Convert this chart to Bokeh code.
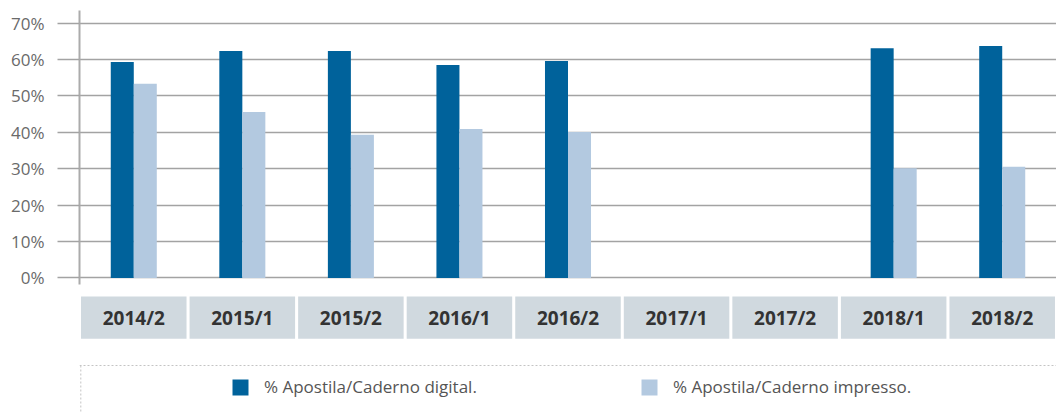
import numpy as np
from bokeh.plotting import figure
from bokeh.models import ColumnDataSource, FactorRange, Range1d, FixedTicker, Legend, LegendItem, Span
from bokeh.transform import dodge
from bokeh.core.properties import value
from bokeh.embed import file_html
from bokeh.resources import INLINE

# ---- data ----
periods = ["2014/2", "2015/1", "2015/2", "2016/1", "2016/2", "2017/1", "2017/2", "2018/1", "2018/2"]
digital = [59.3, 62.3, 62.3, 58.5, 59.6, np.nan, np.nan, 63.1, 63.7]
impresso = [53.3, 45.6, 39.3, 40.9, 40.1, np.nan, np.nan, 30.1, 30.5]
y_ticks = [0, 10, 20, 30, 40, 50, 60, 70]
y_tick_labels = ["0%", "10%", "20%", "30%", "40%", "50%", "60%", "70%"]
series_names = ["% Apostila/Caderno digital.", "% Apostila/Caderno impresso."]

DARK = "#00629b"
LIGHT = "#b3c9e0"
BOX = "#d0d9df"
GRID = "#a3a3a3"
FONT = "Open Sans"

src = ColumnDataSource(data=dict(period=periods, digital=np.array(digital, dtype=float),
                                 impresso=np.array(impresso, dtype=float)))

p = figure(width=1056, height=412, output_backend="svg", toolbar_location=None,
           x_range=FactorRange(*periods, range_padding=0),
           y_range=Range1d(-36.98, 76.2),
           x_axis_location=None,
           min_border_left=79, min_border_right=0, min_border_top=0, min_border_bottom=0)
p.outline_line_color = None
p.background_fill_color = "white"
p.border_fill_color = "white"

# y axis
ax = p.yaxis[0]
ax.ticker = FixedTicker(ticks=y_ticks)
ax.major_label_overrides = {t: l for t, l in zip(y_ticks, y_tick_labels)}
ax.bounds = (-1.8, 73.5)
ax.axis_line_color = "#ababab"
ax.axis_line_width = 2
ax.major_tick_in = 0
ax.major_tick_out = 22
ax.major_tick_line_color = GRID
ax.major_tick_line_width = 1.5
ax.minor_tick_line_color = None
ax.major_label_standoff = 13
ax.major_label_text_font = FONT
ax.major_label_text_font_size = "17px"
ax.major_label_text_color = "#6a6a6a"

p.xgrid.grid_line_color = None
p.ygrid.ticker = FixedTicker(ticks=y_ticks)
p.ygrid.grid_line_color = GRID
p.ygrid.grid_line_width = 1.5

# bars
r1 = p.vbar(x=dodge("period", -0.106, range=p.x_range), top="digital", width=0.212,
            source=src, fill_color=DARK, line_color=None)
r2 = p.vbar(x=dodge("period", 0.106, range=p.x_range), top="impresso", width=0.212,
            source=src, fill_color=LIGHT, line_color=None)

# category label boxes
p.vbar(x="period", top=-5.11, bottom=-16.73, width=0.972, source=src,
       fill_color=BOX, line_color=None)
p.text(x="period", y=-11.0, text="period", source=src, text_align="center",
       text_baseline="middle", text_font=value(FONT), text_font_style="bold",
       text_font_size="19px", text_color="#333333")

# dotted legend frame
p.add_layout(Span(location=-24.07, dimension="width", line_color="#c4c4c4",
                  line_dash="2 2", line_width=1))
p.segment(x0=[0.012], y0=[-24.07], x1=[0.012], y1=[-37.0], line_color="#c4c4c4",
          line_dash="2 2", line_width=1)

# legends
for r, name, loc in [(r1, series_names[0], (151, 14)), (r2, series_names[1], (560, 14))]:
    lg = Legend(items=[LegendItem(label=name, renderers=[r])], location=loc,
                glyph_width=20, glyph_height=20, label_height=20, label_standoff=14,
                padding=0, margin=0, border_line_color=None, background_fill_alpha=0,
                label_text_font=FONT, label_text_font_size="17px",
                label_text_color="#555555")
    p.add_layout(lg)

open("out.html", "w").write(file_html(p, INLINE))
